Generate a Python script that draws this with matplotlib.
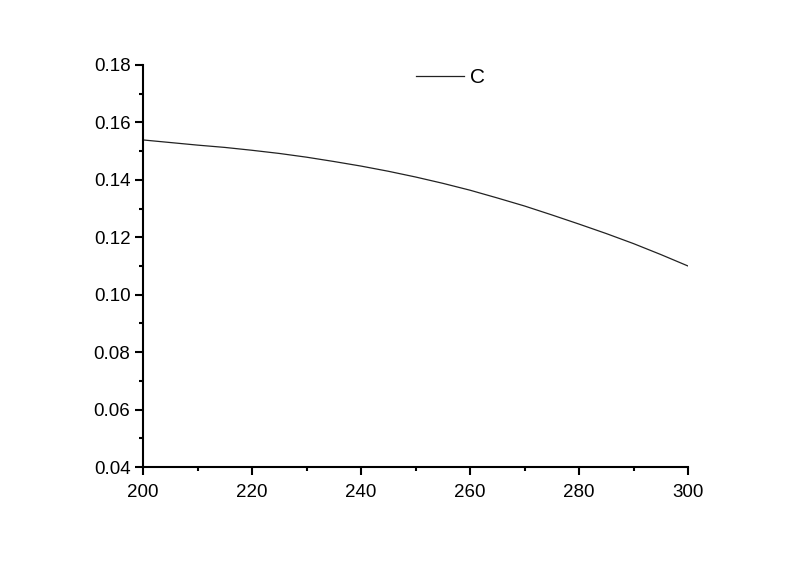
import numpy as np
import matplotlib
matplotlib.use('Agg')
import matplotlib.pyplot as plt
from matplotlib.ticker import MultipleLocator

plt.rcParams['font.family'] = ['Liberation Sans', 'DejaVu Sans']

# values
temp = [200, 205, 210, 215, 220, 225, 230, 235, 240, 245, 250,
        255, 260, 265, 270, 275, 280, 285, 290, 295, 300]
c_val = [0.1539, 0.1530, 0.1521, 0.1513, 0.1503, 0.1492, 0.1479, 0.1464, 0.1448, 0.1430, 0.1410,
         0.1388, 0.1364, 0.1337, 0.1309, 0.1278, 0.1246, 0.1213, 0.1178, 0.1140, 0.1100]

fig = plt.figure(figsize=(8, 5.61), dpi=100)
ax = fig.add_axes([143 / 800, 1 - 467 / 561, (688 - 143) / 800, (467 - 65) / 561])

ax.plot(temp, c_val, color='#222222', lw=0.9, label='C')

ax.set_xlim(200, 300)
ax.set_ylim(0.04, 0.18)
ax.xaxis.set_major_locator(MultipleLocator(20))
ax.xaxis.set_minor_locator(MultipleLocator(10))
ax.yaxis.set_major_locator(MultipleLocator(0.02))
ax.yaxis.set_minor_locator(MultipleLocator(0.01))
ax.yaxis.set_major_formatter(plt.FormatStrFormatter('%.2f'))

for s in ['top', 'right']:
    ax.spines[s].set_visible(False)
for s in ['left', 'bottom']:
    ax.spines[s].set_linewidth(1.5)

ax.tick_params(which='major', direction='out', length=6, width=1.5, labelsize=13.5)
ax.tick_params(axis='x', which='major', pad=6)
ax.tick_params(axis='y', which='major', pad=3)
ax.tick_params(which='minor', direction='out', length=3, width=1.5)

ax.legend(loc='upper left', bbox_to_anchor=(416 / 800, 1 - 68 / 561),
          bbox_transform=fig.transFigure, frameon=False, fontsize=15,
          handlelength=2.3, handletextpad=0.3, borderpad=0, borderaxespad=0)

fig.savefig('out.png', dpi=100)
